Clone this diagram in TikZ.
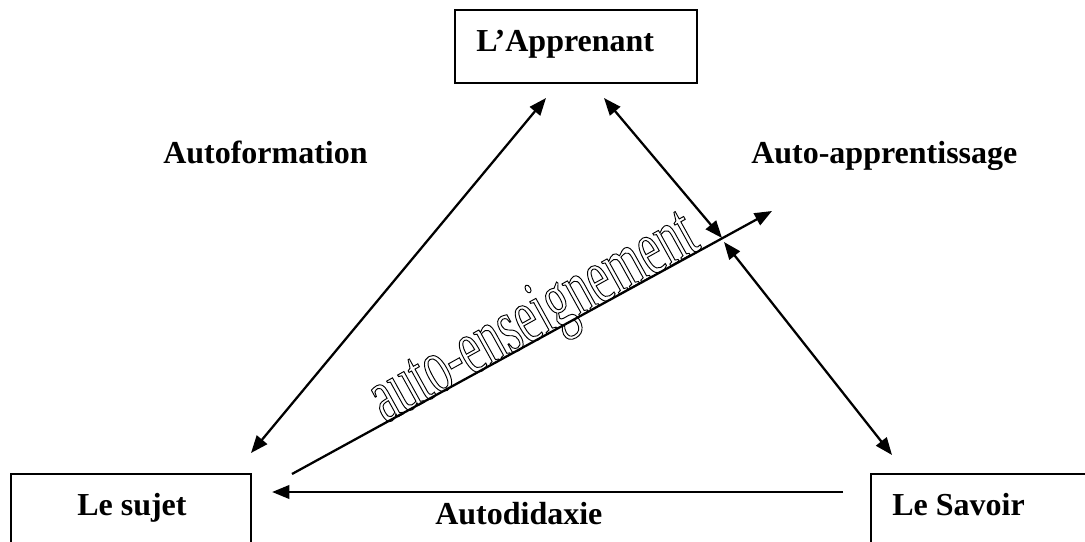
\documentclass[tikz,border=0pt]{standalone}
\usepackage{fontspec}
\setmainfont{Liberation Serif}
\newfontfamily\etroite[FakeStretch=0.6]{Liberation Serif}
\newcommand\contourtexte[1]{\special{pdf:literal direct 1 Tr 0.7 w}#1\special{pdf:literal direct 0 Tr}}
\usetikzlibrary{arrows.meta}

\begin{document}
\begin{tikzpicture}[
    x=0.75pt, y=-0.75pt,
    fleche/.style={line width=1.7pt, >={Triangle[length=13pt,width=10pt]}},
    cadre/.style={line width=1.4pt},
    titre/.style={anchor=base west, inner sep=0pt, font=\fontsize{24}{28}\selectfont\bfseries}
]
    \useasboundingbox (0,0) rectangle (1085,542);
    \clip (0,0) rectangle (1085,542);

    % Cadres des trois pôles
    \draw[cadre] (455,10) rectangle (697,83);
    \draw[cadre] (11,474) rectangle (251,560);
    \draw[cadre] (871,474) rectangle (1100,560);

    % Textes des pôles
    \node[titre] (apprenant) at (476,52) {L’Apprenant};
    \node[titre] (sujet) at (77,515) {Le sujet};
    \node[titre] (savoir) at (892,515) {Le Savoir};

    % Textes des relations
    \node[titre] (autoformation) at (163,163) {Autoformation};
    \node[titre] (apprentissage) at (751,163) {Auto-apprentissage};
    \node[titre] (autodidaxie) at (435,524) {Autodidaxie};

    % Texte en contour le long de la flèche
    \node[rotate=29, anchor=base west, inner sep=0pt] (enseignement) at (385,424)
        {\fontsize{60}{60}\selectfont\etroite\contourtexte{auto-enseignement}};

    % Extrémités des flèches
    \coordinate (hautG) at (546,98);
    \coordinate (basG) at (251,453);
    \coordinate (hautD) at (604,98);
    \coordinate (croixH) at (722,238);
    \coordinate (croixB) at (724,242);
    \coordinate (basD) at (892,455);
    \coordinate (ensA) at (292,474);
    \coordinate (ensB) at (772,211);
    \coordinate (didA) at (843,492);
    \coordinate (didB) at (272,492);

    % Flèches
    \draw[fleche, <->] (hautG) -- (basG);
    \draw[fleche, <->] (hautD) -- (croixH);
    \draw[fleche, <->] (croixB) -- (basD);
    \draw[fleche, ->] (ensA) -- (ensB);
    \draw[fleche, ->, line width=2.1pt] (didA) -- (didB);
\end{tikzpicture}
\end{document}
